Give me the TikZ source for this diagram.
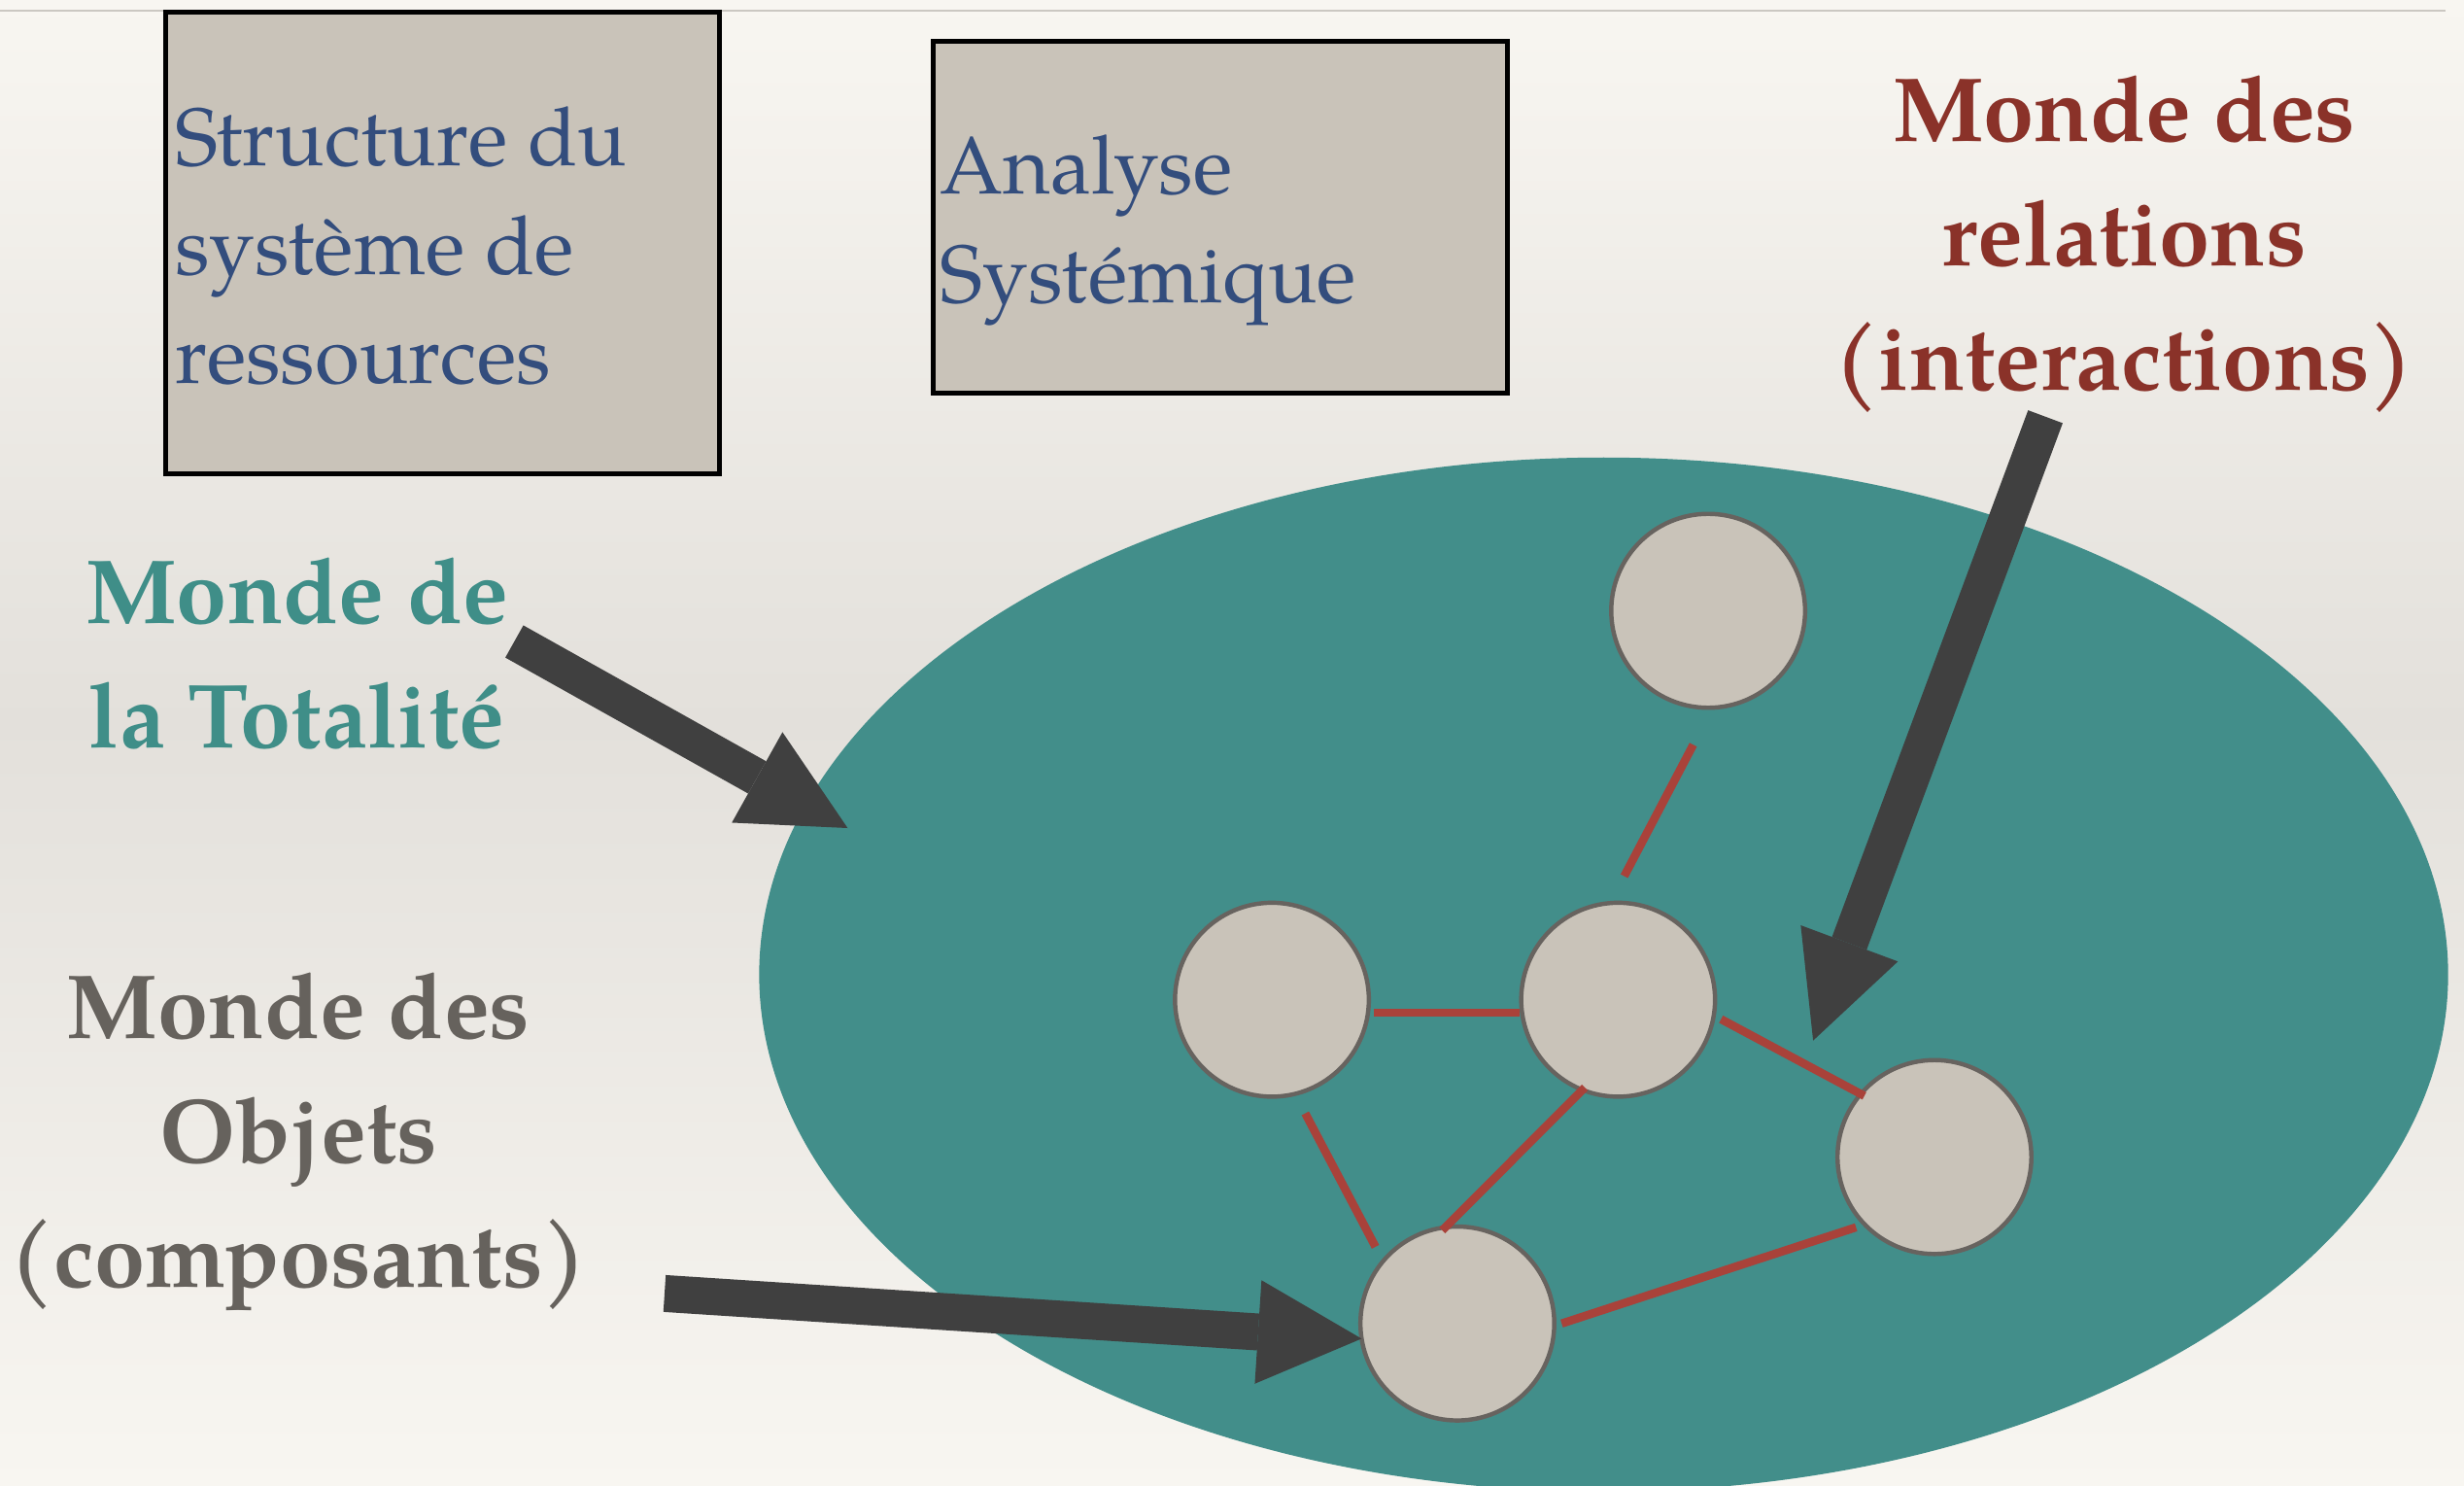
\documentclass[tikz,border=0pt]{standalone}
\usepackage{fontspec}
\setmainfont{texgyrepagella}[Extension=.otf, UprightFont=*-regular, BoldFont=*-bold, ItalicFont=*-italic, BoldItalicFont=*-bolditalic]
\usetikzlibrary{arrows.meta,shapes.geometric,calc}
\definecolor{bgtop}{HTML}{F8F6F1}
\definecolor{bgmid}{HTML}{E3E0DB}
\definecolor{bgbot}{HTML}{F8F6F1}
\definecolor{toplinec}{HTML}{CBC8C2}
\definecolor{boxfill}{HTML}{C9C3B9}
\definecolor{boxtext}{HTML}{334D7D}
\definecolor{relred}{HTML}{8A3229}
\definecolor{totteal}{HTML}{3F8E88}
\definecolor{objgray}{HTML}{66625D}
\definecolor{ellteal}{HTML}{428E8A}
\definecolor{ballline}{HTML}{67635F}
\definecolor{linkred}{HTML}{A9423A}
\definecolor{arrowc}{HTML}{404040}
\newcommand\myboxfont{\fontsize{29.5}{39.4}\selectfont}
\newcommand\mylabfont{\bfseries\fontsize{33}{45}\selectfont}
\tikzset{
  rbox/.style={draw=black, line width=0.062cm, fill=boxfill, inner sep=0, outer sep=0},
  boxtxt/.style={text=boxtext, font=\myboxfont, align=left, anchor=base west, inner sep=0},
  lab/.style={font=\mylabfont, align=center, anchor=base, inner sep=0},
  ball/.style={circle, fill=boxfill, draw=ballline, line width=0.055cm, minimum size=2.468cm, inner sep=0, outer sep=0},
  link/.style={draw=linkred, line width=0.105cm},
  bigarrow/.style={draw=arrowc, fill=arrowc, line width=0.47cm, -{Triangle[length=1.32cm,width=1.32cm,line width=0pt]}}
}
\begin{document}
\begin{tikzpicture}[x={(0.02cm,0)}, y={(0,-0.02cm)}]
\useasboundingbox (0,0) rectangle (1568,945);
\clip (0,0) rectangle (1568,945);
\shade[top color=bgtop, bottom color=bgmid] (0,0) rectangle (1568,460);
\shade[top color=bgmid, bottom color=bgbot] (0,459) rectangle (1568,945);
\draw[toplinec, line width=0.03cm] (0,6.8) -- (1556,6.8);

% boxes
\node[rbox, minimum width=7.05cm, minimum height=5.88cm] (box1) at (281.7,154.6) {};
\node[boxtxt] (box1t) at (111,243.8) {Structure du\\système de\\ressources};
\node[rbox, minimum width=7.31cm, minimum height=4.47cm] (box2) at (776.4,138.1) {};
\node[boxtxt] (box2t) at (598,192.7) {Analyse\\Systémique};

% labels
\node[lab, text=relred] (rel) at (1351.8,248.2) {Monde des\\relations\\(interactions)};
\node[lab, text=totteal] (tot) at (189,475.9) {Monde de\\la Totalité};
\node[lab, text=objgray] (obj) at (190,818.9) {Monde des\\Objets\\(composants)};

% ellipse
\node[ellipse, fill=ellteal, minimum width=21.5cm, minimum height=13.16cm, inner sep=0, outer sep=0] (ell) at (1020.5,620) {};

% circles
\node[ball] (c1) at (1087,388.6) {};
\node[ball] (c2) at (809.4,636) {};
\node[ball] (c3) at (1029.7,636) {};
\node[ball] (c4) at (1231,736.1) {};
\node[ball] (c5) at (927.4,842) {};

% links
\draw[link] ($(c1)+(-9.5,85.2)$) -- ($(c3)+(3.9,-78.6)$);
\draw[link] ($(c2)+(65.1,8.3)$) -- ($(c3)+(-62.4,8.3)$);
\draw[link] ($(c3)+(65.5,12.4)$) -- ($(c4)+(-44.6,-38.9)$);
\draw[link] ($(c2)+(21.2,72.3)$) -- ($(c5)+(-52.1,-48.8)$);
\draw[link] ($(c3)+(-21.2,55.8)$) -- ($(c5)+(-9.6,-59.2)$);
\draw[link] ($(c5)+(66.4,0)$) -- ($(c4)+(-49.9,44.7)$);

% arrows
\coordinate (totStart) at (327.3,408.1);
\coordinate (totTip) at ($(ell)+(-481.1,-93.2)$);
\coordinate (relStart) at (1301.6,265.1);
\coordinate (relTip) at (1153.8,662);
\coordinate (objStart) at (422.9,822.9);
\draw[bigarrow] (totStart) -- (totTip);
\draw[bigarrow] (relStart) -- (relTip);
\draw[bigarrow] (objStart) -- (c5.189);
\end{tikzpicture}
\end{document}
